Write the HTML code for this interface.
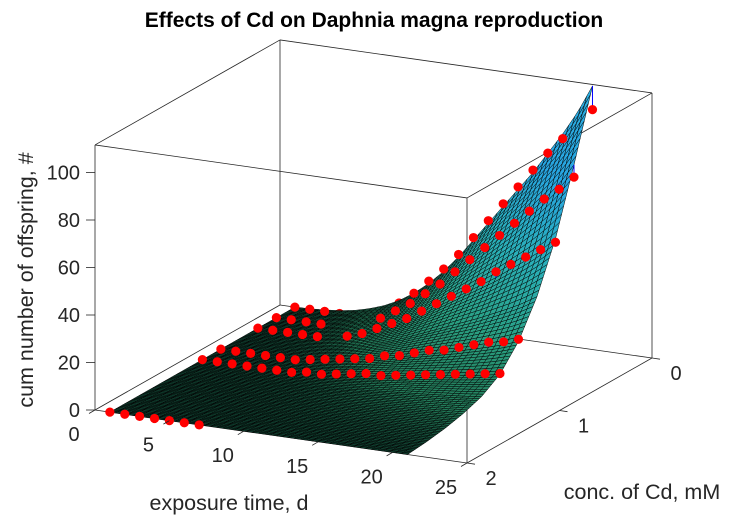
<!DOCTYPE html>
<html><head><meta charset="utf-8"><style>
html,body{margin:0;padding:0;background:#fff}
svg{display:block;font-family:"Liberation Sans",Arial,sans-serif}
</style></head><body>
<svg id="chart" width="729" height="521" viewBox="0 0 729 521" xmlns="http://www.w3.org/2000/svg">
<rect x="0" y="0" width="729" height="521" fill="#fff"/>
<text x="374" y="27" font-size="21" font-weight="bold" text-anchor="middle" fill="#000">Effects of Cd on Daphnia magna reproduction</text>
<g id="box"></g>
<g id="hiddenDots"></g>
<g id="surf"></g>
<g id="dots"></g>
<g id="ticks"></g>
<text x="33" y="280" font-size="21.5" fill="#262626" text-anchor="middle" transform="rotate(-90 33 280)">cum number of offspring, #</text>
<text x="229" y="510" font-size="21.5" fill="#262626" text-anchor="middle">exposure time, d</text>
<text x="642" y="499" font-size="21.5" fill="#262626" text-anchor="middle">conc. of Cd, mM</text>
</svg>
<script>
// ---- data ----
const times = [1,2,3,4,5,6,7,8,9,10,11,12,13,14,15,16,17,18,19,20,21];
const concs = [0, 0.2, 0.4, 0.8, 1.0, 2.0];
const offC0   = [0,0,0,0,0,1,4,8,13,19,25,32,40,48,56,64,72,80,87,92,101];
const offC02  = [0,0,0,0,0,1,3,6,10,14,19,24,30,36,42,48,54,60,66,71,77];
const offC04  = [0,0,0,0,0,0,2,4,7,10,13,17,21,25,29,33,38,42,46,50,54];
const offC08  = [0,0,0,0,0,0,1,2,3,4,5,7,8,10,12,13,15,17,19,20,22];
const offC10  = [0,0,0,0,0,0,0,1,1,2,3,4,4,5,6,7,8,9,10,11,12];
const offC20  = [0,0,0,0,0,0,0];
const series = [offC0, offC02, offC04, offC08, offC10, offC20];
// model surface: time curve at c=0 and concentration factor
const surfTimeCurve = [0,0.2,0.6,1.2,2.2,3.8,6,9,13,18,24,31,39,47,55,63,71,80,89,99,111];
const surfConcGrid = [0,0.2,0.4,0.6,0.8,1.0,1.2,1.4,1.6,1.8,2.0];
const surfConcFactor = [1,0.74,0.5,0.32,0.19,0.105,0.06,0.035,0.018,0.007,0];
const xTicks = [0,5,10,15,20,25];
const yTicks = [0,1,2];
const zTicks = [0,20,40,60,80,100];

// ---- projection ----
const TMAX=25, CMAX=2, ZTOP=111.6;
const FL=[95,410], FR=[467,463], BL=[280,305], ZPX=2.375;
function P(t,c,z){
  const a=t/TMAX, b=(CMAX-c)/CMAX;
  return [FL[0]+a*(FR[0]-FL[0])+b*(BL[0]-FL[0]), FL[1]+a*(FR[1]-FL[1])+b*(BL[1]-FL[1])-z*ZPX];
}
function interp(xs,ys,x){
  if(x<=xs[0])return ys[0]; if(x>=xs[xs.length-1])return ys[ys.length-1];
  for(let i=1;i<xs.length;i++){ if(x<=xs[i]){const f=(x-xs[i-1])/(xs[i]-xs[i-1]);return ys[i-1]+f*(ys[i]-ys[i-1]);} }
}
function surfZ(t,c){ return interp(times,surfTimeCurve,t)*interp(surfConcGrid,surfConcFactor,c); }
const NS='http://www.w3.org/2000/svg';
function mk(tag,attrs,parent){const e=document.createElementNS(NS,tag);for(const k in attrs)e.setAttribute(k,attrs[k]);parent.appendChild(e);return e;}
function col(z){
  const stops=[[0,[15,60,45]],[4,[35,125,90]],[20,[42,160,130]],[45,[42,176,185]],[75,[40,165,225]],[112,[45,175,225]]];
  let i=1;while(i<stops.length-1&&z>stops[i][0])i++;
  const a=stops[i-1],b=stops[i];let f=(z-a[0])/(b[0]-a[0]);f=Math.max(0,Math.min(1,f));
  const c=a[1].map((v,k)=>Math.round(v+f*(b[1][k]-v)));return `rgb(${c[0]},${c[1]},${c[2]})`;
}
// ---- box ----
const box=document.getElementById('box');
const corners=[[0,2],[25,2],[25,0],[0,0]];
const edges=[];
for(let i=0;i<4;i++){const a=corners[i],b=corners[(i+1)%4];edges.push([a[0],a[1],0,b[0],b[1],0]);edges.push([a[0],a[1],ZTOP,b[0],b[1],ZTOP]);edges.push([a[0],a[1],0,a[0],a[1],ZTOP]);}
edges.forEach(e=>{const p=P(e[0],e[1],e[2]),q=P(e[3],e[4],e[5]);
  const l=mk('line',{x1:p[0],y1:p[1],x2:q[0],y2:q[1],stroke:'#262626','stroke-width':0.8},box);
  
  
});
// ---- surface ----
const surf=document.getElementById('surf');
const NT=50, NC=90, T0=1, T1=21;
for(let j=0;j<NC;j++){
  for(let i=0;i<NT;i++){
    const ta=T0+(T1-T0)*i/NT, tb=T0+(T1-T0)*(i+1)/NT;
    const ca=CMAX*j/NC, cb=CMAX*(j+1)/NC;
    const pts=[[ta,ca],[tb,ca],[tb,cb],[ta,cb]].map(q=>P(q[0],q[1],surfZ(q[0],q[1])));
    const zm=surfZ((ta+tb)/2,(ca+cb)/2);
    const poly=mk('polygon',{points:pts.map(p=>p[0].toFixed(2)+','+p[1].toFixed(2)).join(' '),fill:col(zm),stroke:'#000','stroke-width':0.5,'stroke-opacity':0.95},surf);
    
    
  }
}
// ---- dots ----
const V=[6.216,1,27.65];
function hidden(t,c,z){
  for(let s=0.03;s<3;s+=0.01){
    const qt=t+V[0]*s,qc=c+V[1]*s,qz=z+V[2]*s;
    if(qc>CMAX||qt>T1||qz>115)return false;
    if(qt>=T0 && qz<surfZ(qt,qc)-0.5)return true;
  }
  return false;
}
const dotsG=document.getElementById('dots'), hidG=document.getElementById('hiddenDots');
series.forEach((arr,si)=>{
  const c=concs[si];
  arr.forEach((z,k)=>{
    const t=times[k];
    const p=P(t,c,z);
    const hid=hidden(t,c,z);
    const g=hid?hidG:dotsG;
    if(!hid){
      const sz=surfZ(t,c);
      if(Math.abs(sz-z)>1){const q=P(t,c,sz);
        const st=mk('line',{x1:p[0],y1:p[1],x2:q[0],y2:q[1],stroke:'#0000ff','stroke-width':1},g);
        
        
      }
    }
    const d=mk('circle',{cx:p[0],cy:p[1],r:4.6,fill:'#ff0000'},g);
    
    
  });
});
// ---- ticks ----
const tk=document.getElementById('ticks');
xTicks.forEach(v=>{const p=P(v,2,0);
  const l=mk('line',{x1:p[0],y1:p[1],x2:p[0]-6,y2:p[1]+3.5,stroke:'#262626','stroke-width':0.8},tk);
  
  
  const tx=mk('text',{x:p[0]-21,y:p[1]+31,'font-size':20,fill:'#262626','text-anchor':'middle'},tk);tx.textContent=v;
  
  
});
yTicks.forEach(v=>{const p=P(25,v,0);
  const l=mk('line',{x1:p[0],y1:p[1],x2:p[0]+8,y2:p[1]+1.2,stroke:'#262626','stroke-width':0.8},tk);
  
  
  const tx=mk('text',{x:p[0]+24,y:p[1]+22,'font-size':20,fill:'#262626','text-anchor':'middle'},tk);tx.textContent=v;
  
  
});
zTicks.forEach(v=>{const p=P(0,2,v);
  const l=mk('line',{x1:p[0],y1:p[1],x2:p[0]-9,y2:p[1],stroke:'#262626','stroke-width':0.8},tk);
  
  
  const tx=mk('text',{x:p[0]-15,y:p[1]+7,'font-size':20,fill:'#262626','text-anchor':'end'},tk);tx.textContent=v;
  
  
});
</script>
</body></html>
